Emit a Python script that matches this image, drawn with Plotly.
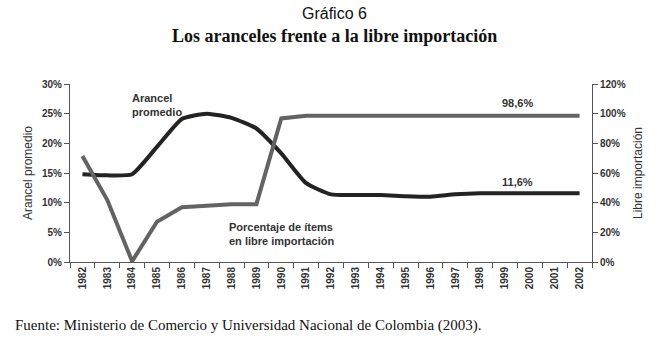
import plotly.graph_objects as go

years = [str(y) for y in range(1982, 2003)]
arancel = [14.8, 14.6, 14.8, 19.4, 24.1, 25.0, 24.3, 22.5, 18.3, 13.3, 11.4, 11.3, 11.3, 11.1, 11.0, 11.4, 11.6, 11.6, 11.6, 11.6, 11.6]
libre = [71.5, 41.8, 0.5, 27.2, 36.9, 38.2, 38.9, 39.0, 96.8, 98.6, 98.6, 98.6, 98.6, 98.6, 98.6, 98.6, 98.6, 98.6, 98.6, 98.6, 98.6]

dark = "#232323"
gray = "#636363"
txt = "#333333"

fig = go.Figure()
fig.add_trace(go.Scatter(x=years, y=libre, yaxis="y2", mode="lines",
                         line=dict(color=gray, width=4), showlegend=False))
fig.add_trace(go.Scatter(x=years, y=arancel, mode="lines",
                         line=dict(color=dark, width=4, shape="spline", smoothing=0.5),
                         showlegend=False))

sans = "Liberation Sans, Arial, sans-serif"
tickfont = dict(family=sans, size=10, color=txt, weight="bold")

fig.update_layout(
    width=671, height=353,
    margin=dict(l=70, r=79, t=84, b=91),
    plot_bgcolor="white", paper_bgcolor="white",
    xaxis=dict(type="category", range=[-0.5, 20.5], showgrid=False,
               showline=True, linecolor="#555", linewidth=1,
               ticks="outside", tickson="boundaries", ticklen=5, tickcolor="#555",
               tickangle=-90, tickfont=dict(family=sans, size=10, color=txt, weight="bold")),
    yaxis=dict(range=[0, 30], dtick=5, ticksuffix="%", showgrid=False, zeroline=False,
               showline=True, linecolor="#555", linewidth=1,
               ticks="outside", ticklen=5, tickcolor="#555", tickfont=tickfont,
               title=dict(text="Arancel promedio", font=dict(family=sans, size=12, color=txt), standoff=6)),
    yaxis2=dict(range=[0, 120], dtick=20, ticksuffix="%", overlaying="y", side="right",
                showgrid=False, zeroline=False,
                showline=True, linecolor="#555", linewidth=1,
                ticks="outside", ticklen=5, tickcolor="#555", tickfont=tickfont,
                title=dict(text="Libre importación", font=dict(family=sans, size=12, color=txt), standoff=8)),
)

ann_font = dict(family=sans, size=11, color=txt, weight="bold")
fig.add_annotation(x=1.9, y=29.0, xref="x", yref="y", text="Arancel<br>promedio",
                   showarrow=False, xanchor="left", yanchor="top", align="left", font=ann_font)
fig.add_annotation(x=5.8, y=7.3, xref="x", yref="y", text="Porcentaje de ítems<br>en libre importación",
                   showarrow=False, xanchor="left", yanchor="top", align="left", font=ann_font)
fig.add_annotation(x=17.5, y=26.8, xref="x", yref="y", text="98,6%",
                   showarrow=False, font=ann_font)
fig.add_annotation(x=17.5, y=13.4, xref="x", yref="y", text="11,6%",
                   showarrow=False, font=ann_font)

fig.add_annotation(x=(334 - 70) / 522, y=(262 - 13) / 178, xref="paper", yref="paper",
                   text="Gráfico 6", showarrow=False, yanchor="middle",
                   font=dict(family=sans, size=16, color="#111"))
fig.add_annotation(x=(334 - 70) / 522, y=(262 - 36) / 178, xref="paper", yref="paper",
                   text="<b>Los aranceles frente a la libre importación</b>", showarrow=False, yanchor="middle",
                   font=dict(family="Liberation Serif, Times New Roman, serif", size=18, color="#111"))
fig.add_annotation(x=(13 - 70) / 522, y=(262 - 325) / 178, xref="paper", yref="paper",
                   text="Fuente: Ministerio de Comercio y Universidad Nacional de Colombia (2003).",
                   showarrow=False, xanchor="left", yanchor="middle",
                   font=dict(family="Liberation Serif, Times New Roman, serif", size=15, color="#111"))

fig.write_html("out.html", config={"displayModeBar": False},
               post_script="document.body.style.margin='0';document.body.style.padding='0';")
